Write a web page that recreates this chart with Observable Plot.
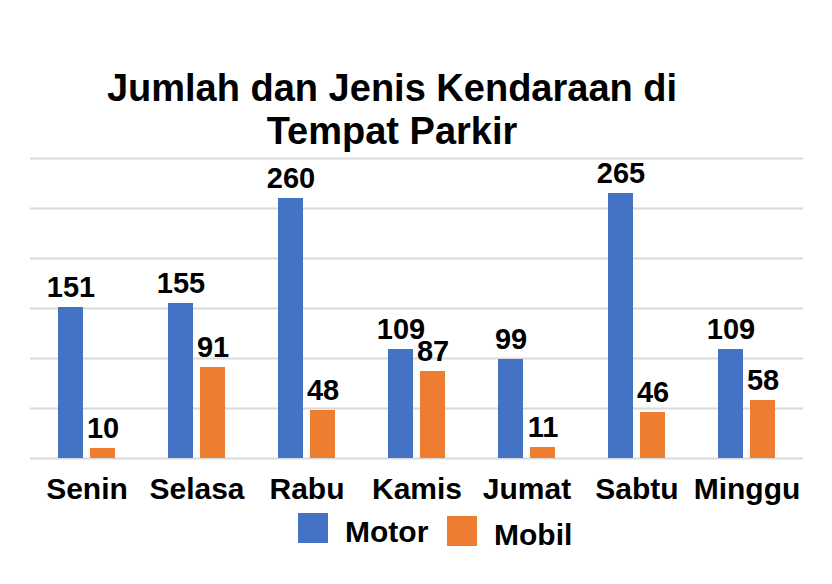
<!DOCTYPE html>
<html>
<head>
<meta charset="utf-8">
<script src="https://cdn.jsdelivr.net/npm/d3@7"></script>
<script src="https://cdn.jsdelivr.net/npm/@observablehq/plot@0.6"></script>
<style>
  html, body { margin: 0; padding: 0; background: #fff; }
  body { font-family: "Liberation Sans", Arial, sans-serif; }
  #wrap { position: relative; width: 832px; height: 584px; overflow: hidden; }
  #title { position: absolute; left: 0; top: 67px; width: 784px; text-align: center;
           font-size: 38px; line-height: 43px; font-weight: bold; color: #000; }
  .leg { position: absolute; display: flex; align-items: center; }
  .sw { width: 30px; height: 30px; margin-right: 17px; }
  .lt { font-size: 30px; line-height: 30px; font-weight: bold; color: #000; position: relative; top: 4px; }
  #chart { position: absolute; left: 0; top: 0; }
</style>
</head>
<body>
<div id="wrap">
  <div id="chart"></div>
  <div id="title">Jumlah dan Jenis Kendaraan di<br>Tempat Parkir</div>
</div>
<script>
const days = ["Senin", "Selasa", "Rabu", "Kamis", "Jumat", "Sabtu", "Minggu"];
const motor = [151, 155, 260, 109, 99, 265, 109];
const mobil = [10, 91, 48, 87, 11, 46, 58];
const seriesNames = ["Motor", "Mobil"];
const seriesColors = ["#4472C4", "#ED7D31"];
const yTicks = [0, 50, 100, 150, 200, 250, 300];

const motorData = days.map((d, i) => ({day: d, value: motor[i]}));
const mobilData = days.map((d, i) => ({day: d, value: mobil[i]}));

const chart = Plot.plot({
  width: 832,
  height: 584,
  marginTop: 158,
  marginBottom: 126,
  marginLeft: 30,
  marginRight: 29,
  style: {fontFamily: "'Liberation Sans', Arial, sans-serif", background: "transparent"},
  x: {domain: days, paddingInner: 0.484, paddingOuter: 0.242, label: null},
  y: {domain: [0, 300], axis: null},
  marks: [
    Plot.ruleY(yTicks, {stroke: "#d9d9d9", strokeWidth: 2}),
    Plot.barY(motorData, {x: "day", y: "value", fill: seriesColors[0], insetRight: 32}),
    Plot.barY(mobilData, {x: "day", y: "value", fill: seriesColors[1], insetLeft: 32}),
    Plot.text(motorData, {x: "day", y: "value", text: d => String(d.value), dx: -16, dy: -11,
      lineAnchor: "bottom", fontSize: 29, fontWeight: "bold", fill: "#000"}),
    Plot.text(mobilData, {x: "day", y: "value", text: d => String(d.value), dx: 16, dy: -11,
      lineAnchor: "bottom", fontSize: 29, fontWeight: "bold", fill: "#000"}),
    Plot.axisX({tickSize: 0, tickPadding: 19, fontSize: 30, fontWeight: "bold", fill: "#000", label: null})
  ]
});
document.getElementById("chart").appendChild(chart);

const legPos = [{left: 298, top: 513}, {left: 447, top: 516}];
seriesNames.forEach((name, i) => {
  const item = document.createElement("div");
  item.className = "leg";
  item.style.left = legPos[i].left + "px";
  item.style.top = legPos[i].top + "px";
  const sw = document.createElement("div");
  sw.className = "sw";
  sw.style.background = seriesColors[i];
  const t = document.createElement("span");
  t.className = "lt";
  t.textContent = name;
  item.appendChild(sw);
  item.appendChild(t);
  document.getElementById("wrap").appendChild(item);
});
</script>
</body>
</html>
